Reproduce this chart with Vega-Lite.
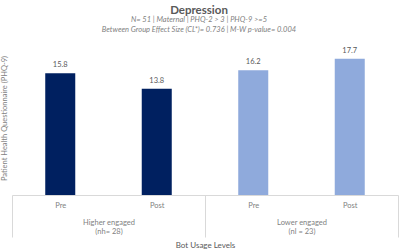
{
  "$schema": "https://vega.github.io/schema/vega-lite/v6.json",
  "width": 386,
  "height": 154,
  "autosize": {"type": "none"},
  "padding": {"left": 12, "top": 41, "right": 2, "bottom": 56},
  "background": "white",
  "config": {"view": {"stroke": null}, "font": "Lato"},
  "title": {
    "text": "Depression",
    "subtitle": ["N= 51 | Maternal | PHQ-2 > 3 | PHQ-9 >=5", "Between Group Effect Size (CL*)= 0.736 | M-W p-value= 0.004"],
    "anchor": "middle",
    "font": "Lato",
    "fontSize": 11.5,
    "fontWeight": "bold",
    "color": "#595959",
    "subtitleFont": "Lato",
    "subtitleFontSize": 7.5,
    "subtitleFontStyle": "italic",
    "subtitleColor": "#7f7f7f",
    "subtitleLineHeight": 9.5,
    "subtitlePadding": 0,
    "offset": 8,
    "dx": -6
  },
  "data": {
    "values": [
      {"group": "Higher engaged|(nh= 28)", "phase": "Pre", "key": "Higher|Pre", "value": 15.8},
      {"group": "Higher engaged|(nh= 28)", "phase": "Post", "key": "Higher|Post", "value": 13.8},
      {"group": "Lower engaged|(nl = 23)", "phase": "Pre", "key": "Lower|Pre", "value": 16.2},
      {"group": "Lower engaged|(nl = 23)", "phase": "Post", "key": "Lower|Post", "value": 17.7}
    ]
  },
  "encoding": {
    "y": {
      "field": "value",
      "type": "quantitative",
      "scale": {"domain": [0, 20], "nice": false},
      "axis": {
        "title": "Patient Health Questionnaire (PHQ-9)",
        "labels": false,
        "ticks": false,
        "domain": false,
        "grid": false,
        "titleFontSize": 7.5,
        "titleColor": "#7f7f7f",
        "titleFontWeight": "normal",
        "titlePadding": 4
      }
    }
  },
  "layer": [
    {
      "mark": {"type": "bar"},
      "encoding": {
        "x": {
          "field": "group",
          "type": "nominal",
          "sort": null,
          "scale": {"paddingInner": 0, "paddingOuter": 0},
          "axis": {
            "orient": "bottom",
            "title": "Bot Usage Levels",
            "titleFontSize": 8,
            "titleColor": "#595959",
            "titleFontWeight": "normal",
            "titlePadding": 4,
            "labelExpr": "isValid(datum.value) ? split(datum.value, '|') : ''",
            "labelFontSize": 7.5,
            "labelColor": "#7f7f7f",
            "labelLineHeight": 9,
            "labelPadding": -19,
            "labelAngle": 0,
            "domain": false,
            "ticks": true,
            "tickBand": "extent",
            "tickSize": 42,
            "tickColor": "#d9d9d9",
            "tickWidth": 1,
            "grid": false
          }
        },
        "xOffset": {
          "field": "phase",
          "type": "nominal",
          "sort": ["Pre", "Post"],
          "scale": {"paddingInner": 0.689, "paddingOuter": 0.3445}
        },
        "color": {
          "field": "group",
          "type": "nominal",
          "scale": {"domain": ["Higher engaged|(nh= 28)", "Lower engaged|(nl = 23)"], "range": ["#002060", "#8faadc"]},
          "legend": null
        }
      }
    },
    {
      "mark": {"type": "text", "baseline": "bottom", "dy": -4, "fontSize": 7.5, "color": "#595959"},
      "encoding": {
        "x": {
          "field": "key",
          "type": "nominal",
          "sort": null,
          "scale": {"paddingInner": 0.689, "paddingOuter": 0.3445},
          "axis": {
            "orient": "bottom",
            "title": null,
            "labelExpr": "split(datum.value, '|')[1]",
            "labelFontSize": 7.5,
            "labelColor": "#7f7f7f",
            "labelPadding": 6,
            "labelAngle": 0,
            "ticks": false,
            "domain": true,
            "domainColor": "#d9d9d9",
            "domainWidth": 1,
            "grid": false
          }
        },
        "text": {"field": "value", "type": "quantitative", "format": ".1f"}
      }
    }
  ],
  "resolve": {"scale": {"x": "independent"}}
}
